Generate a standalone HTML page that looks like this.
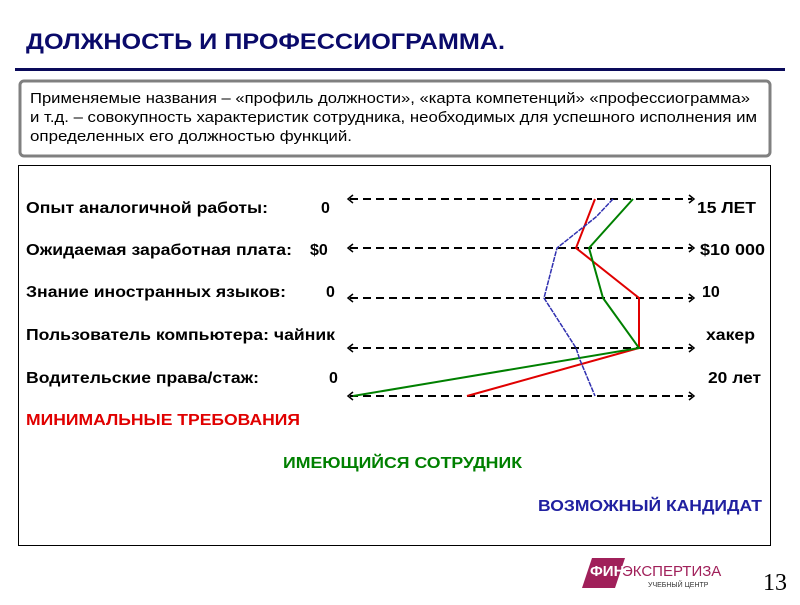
<!DOCTYPE html>
<html><head><meta charset="utf-8"><style>
body{margin:0;width:800px;height:600px;background:#fff;overflow:hidden;font-family:"Liberation Sans",sans-serif}
</style></head><body>
<svg width="800" height="600" xmlns="http://www.w3.org/2000/svg" font-family="Liberation Sans, sans-serif">
<text x="26" y="49" font-size="22" font-weight="bold" fill="#0a0a6a" textLength="479" lengthAdjust="spacingAndGlyphs">ДОЛЖНОСТЬ И ПРОФЕССИОГРАММА.</text>
<rect x="15" y="68" width="770" height="3" fill="#0a0a5a"/>
<rect x="20" y="81" width="750" height="75" rx="4" fill="#fff" stroke="#808080" stroke-width="3"/>
<g font-size="15" fill="#000">
<text x="30" y="103" textLength="720" lengthAdjust="spacingAndGlyphs">Применяемые названия – «профиль должности», «карта компетенций» «профессиограмма»</text>
<text x="30" y="122" textLength="727" lengthAdjust="spacingAndGlyphs">и т.д. – совокупность характеристик сотрудника, необходимых для успешного исполнения им</text>
<text x="30" y="141" textLength="322" lengthAdjust="spacingAndGlyphs">определенных его должностью функций.</text>
</g>
<rect x="18.5" y="165.5" width="752" height="380" fill="none" stroke="#000" stroke-width="1"/>
<g font-size="16" font-weight="bold" fill="#000" lengthAdjust="spacingAndGlyphs">
<text x="26" y="213" textLength="242" lengthAdjust="spacingAndGlyphs">Опыт аналогичной работы:</text><text x="321" y="213">0</text>
<text x="26" y="255" textLength="266" lengthAdjust="spacingAndGlyphs">Ожидаемая заработная плата:</text><text x="310" y="255">$0</text>
<text x="26" y="297" textLength="260" lengthAdjust="spacingAndGlyphs">Знание иностранных языков:</text><text x="326" y="297">0</text>
<text x="26" y="340" textLength="309" lengthAdjust="spacingAndGlyphs">Пользователь компьютера: чайник</text>
<text x="26" y="383" textLength="233" lengthAdjust="spacingAndGlyphs">Водительские права/стаж:</text><text x="329" y="383">0</text>
<text x="697" y="213" textLength="59" lengthAdjust="spacingAndGlyphs">15 ЛЕТ</text>
<text x="700" y="255" textLength="65" lengthAdjust="spacingAndGlyphs">$10 000</text>
<text x="702" y="297">10</text>
<text x="706" y="340" textLength="49" lengthAdjust="spacingAndGlyphs">хакер</text>
<text x="708" y="383" textLength="53" lengthAdjust="spacingAndGlyphs">20 лет</text>
<text x="26" y="425" fill="#e00000" textLength="274" lengthAdjust="spacingAndGlyphs">МИНИМАЛЬНЫЕ ТРЕБОВАНИЯ</text>
<text x="283" y="468" fill="#008000" textLength="239" lengthAdjust="spacingAndGlyphs">ИМЕЮЩИЙСЯ СОТРУДНИК</text>
<text x="538" y="511" fill="#2020a0" textLength="224" lengthAdjust="spacingAndGlyphs">ВОЗМОЖНЫЙ КАНДИДАТ</text>
</g>
<g stroke="#000" stroke-width="2" fill="none">
<g stroke-dasharray="8,5">
<line x1="350" y1="199" x2="692" y2="199"/><line x1="350" y1="248" x2="692" y2="248"/>
<line x1="350" y1="298" x2="692" y2="298"/><line x1="350" y1="348" x2="692" y2="348"/>
<line x1="350" y1="396" x2="692" y2="396"/>
</g>
<g stroke-width="1.5">
<path d="M353,195 L348,199 L353,203 M689,195 L694,199 L689,203"/>
<path d="M353,244 L348,248 L353,252 M689,244 L694,248 L689,252"/>
<path d="M353,294 L348,298 L353,302 M689,294 L694,298 L689,302"/>
<path d="M353,344 L348,348 L353,352 M689,344 L694,348 L689,352"/>
<path d="M353,392 L348,396 L353,400 M689,392 L694,396 L689,400"/>
</g>
</g>
<polyline points="595,199 576,248 639,298 639,348 467,396" fill="none" stroke="#e00000" stroke-width="2"/>
<polyline points="633,199 589,248 603,298 639,348 353,396" fill="none" stroke="#008000" stroke-width="2"/>
<polyline points="613,199 596,217 557,248 544,298 576,348 580,360 595,396" fill="none" stroke="#3030b0" stroke-width="1.5" stroke-dasharray="5,1"/>
<polygon points="592,558 625,558 615,588 582,588" fill="#a0205a"/>
<text x="590" y="576" font-size="15" font-weight="bold" fill="#fff">ФИН</text>
<text x="622" y="576" font-size="15" fill="#a0205a">ЭКСПЕРТИЗА</text>
<text x="648" y="587" font-size="7" fill="#333">УЧЕБНЫЙ ЦЕНТР</text>
<text x="763" y="590" font-size="24" font-family="Liberation Serif, serif" fill="#000">13</text>
</svg>
</body></html>
